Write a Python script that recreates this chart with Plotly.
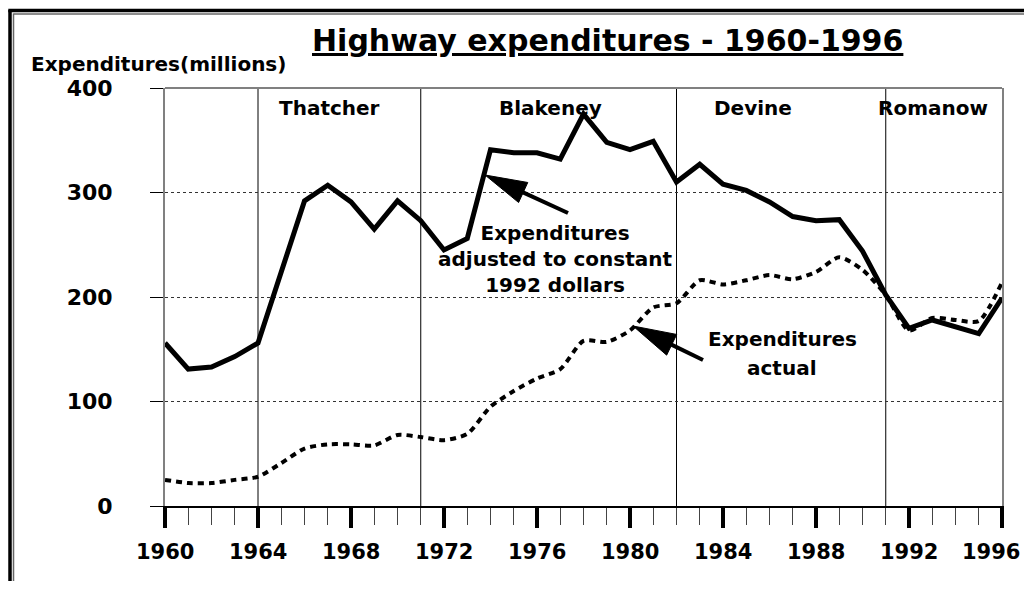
import plotly.graph_objects as go

# ---------------- data ----------------
years = list(range(1960, 1997))
constant_1992 = [156, 131, 133, 143, 156, 224, 292, 307, 291, 265, 292, 273, 245, 256,
                 341, 338, 338, 332, 375, 348, 341, 349, 310, 327, 308, 302, 291, 277,
                 273, 274, 244, 202, 170, 178, 172, 165, 199]
actual = [25, 22, 22, 25, 28, 41, 55, 59, 59, 58, 68, 66, 63, 69,
          95, 110, 122, 131, 158, 157, 168, 190, 194, 216, 212, 216, 221, 217,
          224, 238, 226, 202, 168, 180, 178, 177, 214]
y_ticks = [0, 100, 200, 300, 400]
x_ticks = list(range(1960, 1997, 4))
premiers = ["Thatcher", "Blakeney", "Devine", "Romanow"]
term_start = [1964, 1971, 1982, 1991]

# ---------------- layout geometry (window pixels) ----------------
OFF = 8                      # page body margin
W, H = 1032 - OFF, 589 - 2 * OFF
L, R, T, B = 165, 1002, 88, 506   # plot area in window pixels
FONT = "DejaVu Sans"


def xp(p):
    return (p - L) / (R - L)


def yp(p):
    return (B - p) / (B - T)


fig = go.Figure()
fig.add_trace(go.Scatter(
    x=years, y=actual, mode="lines",
    line=dict(color="black", width=4, dash="6px,5px", shape="spline", smoothing=0.7),
    cliponaxis=False, hoverinfo="skip", showlegend=False))
fig.add_trace(go.Scatter(
    x=years, y=constant_1992, mode="lines",
    line=dict(color="black", width=5),
    cliponaxis=False, hoverinfo="skip", showlegend=False))

shapes = []
for yr in term_start:
    shapes.append(dict(type="line", xref="x", yref="paper", x0=yr, x1=yr, y0=0, y1=1,
                       line=dict(color="black", width=1), layer="below"))
shapes.append(dict(type="line", xref="paper", yref="paper", x0=0, x1=1, y0=1, y1=1,
                   line=dict(color="#808080", width=2)))
# outer frame (left and top)
shapes.append(dict(type="line", xref="paper", yref="paper", x0=xp(10), x1=xp(10),
                   y0=yp(10), y1=yp(640), line=dict(color="black", width=3.5)))
shapes.append(dict(type="line", xref="paper", yref="paper", x0=xp(13.5), x1=xp(13.5),
                   y0=yp(13.5), y1=yp(640), line=dict(color="#666666", width=1.5)))
shapes.append(dict(type="line", xref="paper", yref="paper", x0=xp(8.3), x1=xp(1080),
                   y0=yp(10.5), y1=yp(10.5), line=dict(color="black", width=3.5)))
shapes.append(dict(type="line", xref="paper", yref="paper", x0=xp(13.5), x1=xp(1080),
                   y0=yp(14), y1=yp(14), line=dict(color="#666666", width=1.5)))


def arrow(tip, tail, head_len, head_w):
    tx, ty = tip
    dx, dy = tail[0] - tx, tail[1] - ty
    n = (dx * dx + dy * dy) ** 0.5
    ux, uy = dx / n, dy / n
    bx, by = tx + ux * head_len, ty + uy * head_len
    px_, py_ = -uy, ux
    c1 = (bx + px_ * head_w / 2, by + py_ * head_w / 2)
    c2 = (bx - px_ * head_w / 2, by - py_ * head_w / 2)
    path = (f"M {xp(tx)},{yp(ty)} L {xp(c1[0])},{yp(c1[1])} "
            f"L {xp(c2[0])},{yp(c2[1])} Z")
    shapes.append(dict(type="path", xref="paper", yref="paper", path=path,
                       fillcolor="black", line=dict(color="black", width=1)))
    shapes.append(dict(type="line", xref="paper", yref="paper",
                       x0=xp(bx - ux * 2), y0=yp(by - uy * 2), x1=xp(tail[0]), y1=yp(tail[1]),
                       line=dict(color="black", width=4)))


arrow((485, 175), (568, 213), 42, 22)
arrow((633, 326), (703, 360), 43, 23)

annotations = []


def txt(text, x, y, size, xanchor="center"):
    annotations.append(dict(text=text, xref="paper", yref="paper", x=xp(x), y=yp(y),
                            xanchor=xanchor, yanchor="middle", showarrow=False,
                            font=dict(family=FONT, size=size, color="black", weight="bold")))


txt("<u>Highway expenditures - 1960-1996</u>", 607.5, 41, 30)
txt("Expenditures(millions)", 29, 64, 20, xanchor="left")
for name, cx in zip(premiers, [329, 550, 753, 933]):
    txt(name, cx, 108, 20)
txt("Expenditures<br>adjusted to constant<br>1992 dollars", 555, 258.5, 20)
txt("Expenditures", 782, 339, 20)
txt("actual", 782, 368, 20)

# x tick labels (placed at their data positions; last one kept inside the page)
for i, v in enumerate(x_ticks):
    last = i == len(x_ticks) - 1
    annotations.append(dict(text=str(v), xref="x", yref="paper", x=v, y=yp(552),
                            xanchor="right" if last else "center", yanchor="middle",
                            xshift=20 if last else 0, showarrow=False,
                            font=dict(family=FONT, size=21, color="black", weight="bold")))

fig.update_layout(
    width=W, height=H,
    margin=dict(l=L - OFF, r=W - (R - OFF), t=T - OFF, b=H - (B - OFF), pad=0,
                autoexpand=False),
    paper_bgcolor="white", plot_bgcolor="white",
    font=dict(family=FONT, color="black"),
    shapes=shapes, annotations=annotations,
    showlegend=False,
    xaxis=dict(range=[1960, 1996], tickvals=x_ticks, showticklabels=False,
               ticks="outside", ticklen=20, tickwidth=4, tickcolor="black",
               showline=True, linecolor="black", linewidth=2,
               showgrid=False, zeroline=False, automargin=False,
               minor=dict(ticks="outside", tick0=1960, dtick=1, ticklen=17, tickwidth=1,
                          tickcolor="#444444", showgrid=False)),
    yaxis=dict(range=[0, 400], tickvals=y_ticks, ticktext=[str(v) for v in y_ticks],
               ticks="outside", ticklen=13, tickwidth=1, tickcolor="black",
               showline=True, linecolor="#808080", linewidth=2, mirror=True,
               showgrid=True, gridcolor="#333333", griddash="dot", gridwidth=1,
               zeroline=False, ticklabelstandoff=33, automargin=False,
               tickfont=dict(family=FONT, size=22, color="black", weight="bold")),
)

fig.write_html("out.html")
